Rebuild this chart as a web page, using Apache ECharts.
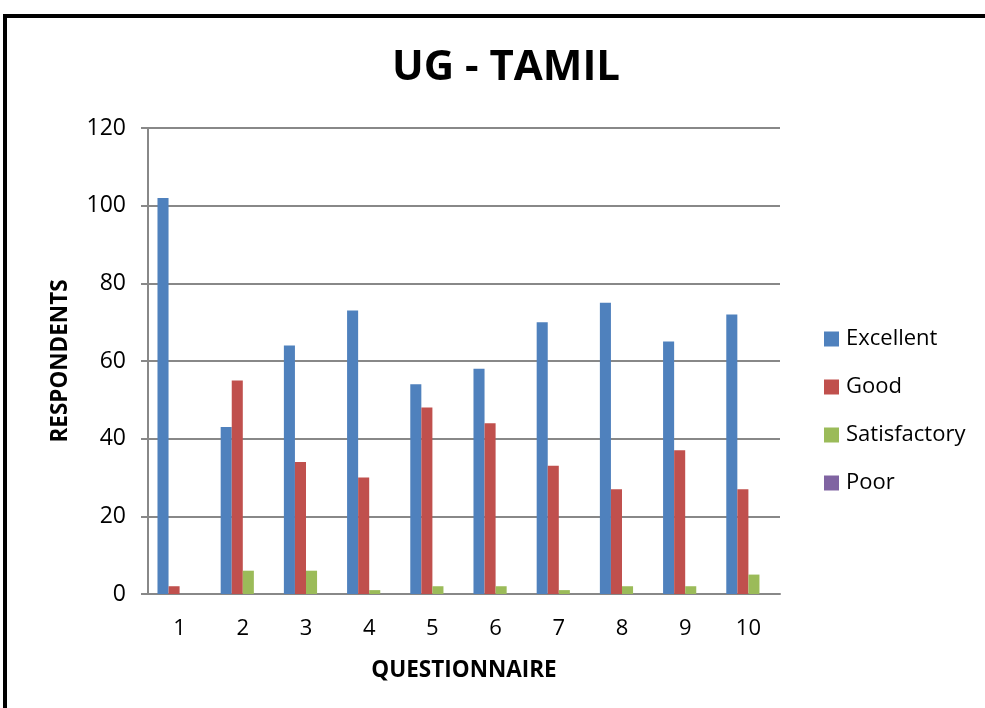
<!DOCTYPE html>
<html><head><meta charset="utf-8">
<script src="https://cdn.jsdelivr.net/npm/echarts@6/dist/echarts.min.js"></script>
<style>html,body{margin:0;padding:0;background:#fff;}#c{width:985px;height:708px;}</style>
</head><body><div id="c"></div>
<script>
const categories = ['1','2','3','4','5','6','7','8','9','10'];
const excellent = [102, 43, 64, 73, 54, 58, 70, 75, 65, 72];
const good = [2, 55, 34, 30, 48, 44, 33, 27, 37, 27];
const satisfactory = [0, 6, 6, 1, 2, 2, 1, 2, 2, 5];
const poor = [0, 0, 0, 0, 0, 0, 0, 0, 0, 0];
const yTicks = [0, 20, 40, 60, 80, 100, 120];

const font = '"Open Sans", Lato, sans-serif';
const chart = echarts.init(document.getElementById('c'));
function ser(name, data, color) {
  return { name, type: 'bar', data, barGap: '0%', barCategoryGap: '30%',
    itemStyle: { color }, emphasis: { disabled: true } };
}
chart.setOption({
  animation: false,
  textStyle: { fontFamily: font },
  graphic: [{ type: 'rect', shape: { x: 5, y: 16, width: 1000, height: 720 },
    style: { fill: 'none', stroke: '#000', lineWidth: 4 }, silent: true }],
  title: { text: 'UG - TAMIL', left: 501, top: 42, textAlign: 'center',
    textStyle: { fontFamily: font, fontSize: 42, fontWeight: 'bold', color: '#000' } },
  legend: { orient: 'vertical', left: 819, top: 323, itemGap: 26, itemWidth: 15, itemHeight: 15,
    icon: 'rect', textStyle: { fontFamily: font, fontSize: 22, lineHeight: 22, color: '#000', padding: [0,0,0,2] },
    data: ['Excellent', 'Good', 'Satisfactory', 'Poor'] },
  grid: { left: 148, top: 128, right: 205, bottom: 114, containLabel: false },
  xAxis: { type: 'category', data: categories,
    name: 'QUESTIONNAIRE', nameLocation: 'middle', nameGap: 65,
    nameTextStyle: { fontFamily: font, fontSize: 22.5, fontWeight: 'bold', color: '#000' },
    axisLine: { lineStyle: { color: '#888', width: 2 } },
    axisTick: { show: false },
    axisLabel: { fontFamily: font, fontSize: 22, color: '#000', margin: 24 } },
  yAxis: { type: 'value', min: yTicks[0], max: yTicks[yTicks.length-1], interval: 20,
    name: 'RESPONDENTS', nameLocation: 'middle', nameGap: 76,
    nameTextStyle: { fontFamily: font, fontSize: 22.5, fontWeight: 'bold', color: '#000' },
    axisLine: { show: true, lineStyle: { color: '#888', width: 2 } },
    axisTick: { show: true, length: 7, lineStyle: { color: '#888', width: 2 } },
    splitLine: { lineStyle: { color: '#888', width: 2 } },
    axisLabel: { fontFamily: font, fontSize: 23, color: '#000', margin: 22 } },
  series: [
    ser('Excellent', excellent, '#4F81BD'),
    ser('Good', good, '#C0504D'),
    ser('Satisfactory', satisfactory, '#9BBB59'),
    ser('Poor', poor, '#8064A2')
  ]
});
</script></body></html>
